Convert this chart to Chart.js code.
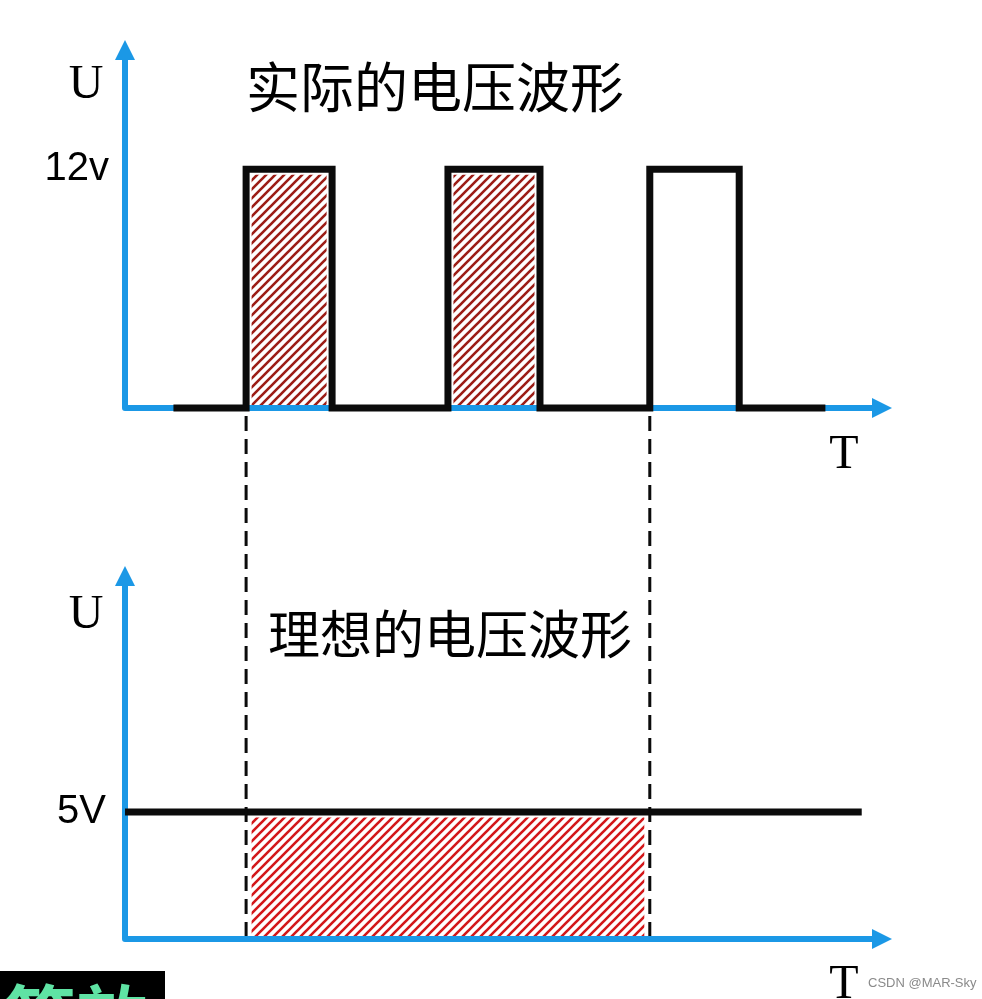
<!DOCTYPE html>
<html>
<head>
<meta charset="utf-8">
<script src="https://cdn.jsdelivr.net/npm/chart.js@4"></script>
<style>
  html, body { margin: 0; padding: 0; background: #fff; }
  #wrap { position: relative; width: 982px; height: 999px; overflow: hidden; background: #fff; }
  canvas { position: absolute; left: 0; }
  #cTop { top: 0; }
  #cBot { top: 490px; }
</style>
</head>
<body>
<div id="wrap">
  <canvas id="cTop" width="982" height="490"></canvas>
  <canvas id="cBot" width="982" height="509"></canvas>
</div>
<script>
// ---------------- data ----------------
const timeMin = 0;
const timeMax = 38;

// actual (PWM) waveform: level held from each time until the next
const actualTimes = [2.4, 6.0, 10.26, 16.0, 20.56, 26.0, 30.43, 34.7];
const actualVolts = [0, 12, 0, 12, 0, 12, 0, 0];

// hatched pulses (area of the first two pulses)
const hatchedPulseStarts = [6.0, 16.0];
const hatchedPulseEnds = [10.26, 20.56];
const pulseLevel = 12;

// ideal (equivalent) waveform
const idealTimes = [0, 36.5];
const idealVolts = [5, 5];
const equivWindow = [6.0, 26.0];   // equivalent window (dashed lines + hatched area)
const idealLevel = 5;

// axes
const topYMax = 18.5;
const botYMax = 14.69;
const topTickValues = [12];
const topTickLabels = ['12v'];
const botTickValues = [5];
const botTickLabels = ['5V'];
const yAxisName = 'U';
const xAxisName = 'T';
const titles = ['实际的电压波形', '理想的电压波形'];
const badgeText = '等效';
const watermark = 'CSDN @MAR-Sky';

// ---------------- styles ----------------
const BLUE = '#1b98e6';
const BLACK = '#0b0b0b';
const BOT_OFFSET = 490;   // page y of bottom canvas
const DASH = [15, 8];

function makeHatch(ctx, color) {
  const s = 9;
  const c = document.createElement('canvas');
  c.width = s; c.height = s;
  const g = c.getContext('2d');
  g.strokeStyle = color;
  g.lineWidth = 2.6;
  g.beginPath();
  g.moveTo(-1, s + 1); g.lineTo(s + 1, -1);
  g.moveTo(-2, 2); g.lineTo(2, -2);
  g.moveTo(s - 2, s + 2); g.lineTo(s + 2, s - 2);
  g.stroke();
  return ctx.createPattern(c, 'repeat');
}

function drawAxes(chart) {
  const { ctx, chartArea: a, scales } = chart;
  const y0 = scales.y.getPixelForValue(0);
  const x0 = scales.x.getPixelForValue(0);
  ctx.save();
  ctx.strokeStyle = BLUE;
  ctx.fillStyle = BLUE;
  ctx.lineWidth = 6;
  ctx.lineJoin = 'round';
  ctx.beginPath();
  ctx.moveTo(x0, a.top + 18);
  ctx.lineTo(x0, y0);
  ctx.lineTo(a.right - 18, y0);
  ctx.stroke();
  ctx.beginPath();
  ctx.moveTo(x0, a.top); ctx.lineTo(x0 - 10, a.top + 20); ctx.lineTo(x0 + 10, a.top + 20);
  ctx.closePath(); ctx.fill();
  ctx.beginPath();
  ctx.moveTo(a.right, y0); ctx.lineTo(a.right - 20, y0 - 10); ctx.lineTo(a.right - 20, y0 + 10);
  ctx.closePath(); ctx.fill();
  ctx.restore();
}

function drawDashed(chart, yFrom, yTo) {
  const { ctx, scales } = chart;
  ctx.save();
  ctx.strokeStyle = BLACK;
  ctx.lineWidth = 3;
  ctx.setLineDash(DASH);
  equivWindow.forEach(t => {
    const x = scales.x.getPixelForValue(t);
    ctx.beginPath();
    ctx.moveTo(x, yFrom);
    ctx.lineTo(x, yTo);
    ctx.stroke();
  });
  ctx.restore();
}

function text(ctx, str, x, y, font, color, align, base) {
  ctx.save();
  ctx.font = font;
  ctx.fillStyle = color;
  ctx.textAlign = align || 'left';
  ctx.textBaseline = base || 'alphabetic';
  ctx.fillText(str, x, y);
  ctx.restore();
}

function hatchPoints(starts, ends, level) {
  const pts = [];
  starts.forEach((s, i) => {
    const e = ends[i];
    pts.push({ x: s, y: 0 }, { x: s, y: level }, { x: e, y: level }, { x: e, y: 0 });
    if (i < starts.length - 1) pts.push({ x: (e + starts[i + 1]) / 2, y: null });
  });
  return pts;
}

function baseOptions(yMax, tickValues, tickLabels, tickPad, pad) {
  return {
    responsive: false,
    devicePixelRatio: 1,
    animation: false,
    events: [],
    layout: { padding: pad },
    plugins: { legend: { display: false }, tooltip: { enabled: false }, title: { display: false } },
    scales: {
      x: { type: 'linear', min: timeMin, max: timeMax, display: false },
      y: {
        type: 'linear', min: 0, max: yMax,
        grid: { display: false, drawTicks: false },
        border: { display: false },
        afterBuildTicks: (s) => { s.ticks = tickValues.map(v => ({ value: v })); },
        afterFit: (s) => { s.width = 125; },
        ticks: {
          padding: tickPad,
          color: '#000',
          font: { family: "'Liberation Sans', Arial, sans-serif", size: 40 },
          callback: (v, i) => tickLabels[i]
        }
      }
    }
  };
}

// ---------------- top chart ----------------
const topCanvas = document.getElementById('cTop');
const topCtx = topCanvas.getContext('2d');
const topChart = new Chart(topCtx, {
  type: 'line',
  data: {
    datasets: [
      {
        label: 'hatch',
        order: 2,
        data: hatchPoints(hatchedPulseStarts, hatchedPulseEnds, pulseLevel),
        borderColor: '#ffffff',
        borderWidth: 11,
        backgroundColor: makeHatch(topCtx, '#9c1d16'),
        fill: 'origin',
        pointRadius: 0,
        spanGaps: false,
        clip: false
      },
      {
        label: 'actual',
        order: 1,
        data: actualTimes.map((t, i) => ({ x: t, y: actualVolts[i] })),
        borderColor: BLACK,
        borderWidth: 7,
        stepped: true,
        fill: false,
        pointRadius: 0,
        clip: false
      }
    ]
  },
  options: baseOptions(topYMax, topTickValues, topTickLabels, 16, { top: 35, bottom: 82, right: 90, left: 0 }),
  plugins: [{
    id: 'deco',
    beforeDatasetDraw(chart, args) { if (args.index === 1) drawAxes(chart); },
    afterDatasetsDraw(chart) {
      const y0 = chart.scales.y.getPixelForValue(0);
      drawDashed(chart, y0 + 8, chart.height + 30);
    },
    afterDraw(chart) {
      const ctx = chart.ctx;
      text(ctx, yAxisName, 86, 98, "48px 'Liberation Serif', serif", '#000', 'center');
      text(ctx, xAxisName, 844, 468, "48px 'Liberation Serif', serif", '#000', 'center');
      text(ctx, titles[0], 246, 87, "54px 'Noto Sans CJK SC', sans-serif", '#000', 'left', 'middle');
    }
  }]
});

const dashStartPage = topChart.scales.y.getPixelForValue(0) + 8;

// ---------------- bottom chart ----------------
const botCanvas = document.getElementById('cBot');
const botCtx = botCanvas.getContext('2d');
new Chart(botCtx, {
  type: 'line',
  data: {
    datasets: [
      {
        label: 'hatch',
        order: 2,
        data: hatchPoints([equivWindow[0]], [equivWindow[1]], idealLevel),
        borderColor: '#ffffff',
        borderWidth: 11,
        backgroundColor: makeHatch(botCtx, '#d3171a'),
        fill: 'origin',
        pointRadius: 0,
        clip: false
      },
      {
        label: 'ideal',
        order: 1,
        data: idealTimes.map((t, i) => ({ x: t, y: idealVolts[i] })),
        borderColor: BLACK,
        borderWidth: 7,
        fill: false,
        pointRadius: 0,
        clip: false
      }
    ]
  },
  options: baseOptions(botYMax, botTickValues, botTickLabels, 19, { top: 76, bottom: 60, right: 90, left: 0 }),
  plugins: [{
    id: 'deco2',
    beforeDatasetDraw(chart, args) { if (args.index === 1) drawAxes(chart); },
    afterDatasetsDraw(chart) {
      const y0 = chart.scales.y.getPixelForValue(0);
      drawDashed(chart, dashStartPage - BOT_OFFSET, y0 - 3);
    },
    afterDraw(chart) {
      const ctx = chart.ctx;
      text(ctx, yAxisName, 86, 138, "48px 'Liberation Serif', serif", '#000', 'center');
      text(ctx, xAxisName, 844, 508, "48px 'Liberation Serif', serif", '#000', 'center');
      text(ctx, titles[1], 268, 144, "52px 'Noto Sans CJK SC', sans-serif", '#000', 'left', 'middle');
      // badge
      ctx.save();
      ctx.fillStyle = '#000';
      ctx.fillRect(0, 481, 165, 28);
      ctx.beginPath(); ctx.rect(0, 481, 165, 28); ctx.clip();
      text(ctx, badgeText, 4, 555, "bold 72px 'Noto Sans CJK SC', sans-serif", '#5fe3a4', 'left');
      ctx.restore();
      text(ctx, watermark, 868, 493, "13px 'Liberation Sans', Arial, sans-serif", '#8a8a8a', 'left', 'middle');
    }
  }]
});
</script>
</body>
</html>
